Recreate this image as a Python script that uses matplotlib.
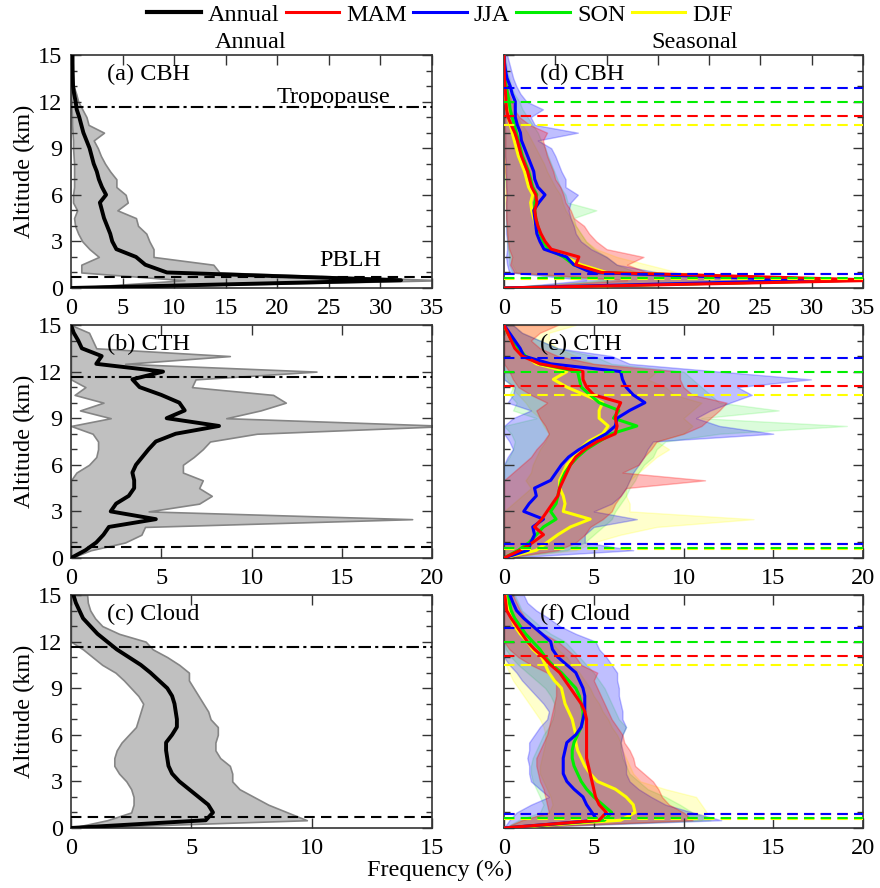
import numpy as np
import matplotlib
matplotlib.use('Agg')
import matplotlib.pyplot as plt
from matplotlib.ticker import MultipleLocator

plt.rcParams['font.family'] = ['Liberation Serif', 'DejaVu Serif']
FS = 17.5
plt.rcParams['font.size'] = FS

# altitude grid (km), 0.5 km bins
alt = np.arange(0, 15.01, 0.5)

# ---- annual profiles (mean, min, max) ----
cbh_ann = [0, 32, 9.3, 7.2, 6.3, 4.4, 4.0, 3.8, 3.5, 3.2, 3.0, 2.8, 3.4, 3.0, 2.7, 2.5, 2.2, 2.0, 1.8, 1.5, 1.2, 1.0, 0.8, 0.55, 0.45, 0.3, 0.2, 0.18, 0.16, 0.15, 0.15]
cbh_ann_lo = [0, 11, 1.0, 1.0, 2.7, 1.8, 1.1, 0.7, 0.4, 0.3, 0.6, 0.2, 0.2, 0.3, 0.3, 0.3, 0.3, 0.25, 0.2, 0.2, 0.15, 0.1, 0.1, 0.05, 0.05, 0, 0, 0, 0, 0, 0]
cbh_ann_hi = [0, 36, 14.4, 13.8, 8.0, 8.0, 7.6, 7.3, 6.5, 6.3, 4.5, 5.5, 5.3, 4.4, 4.4, 3.8, 3.3, 2.9, 2.6, 2.2, 3.2, 1.7, 1.5, 1.1, 0.7, 0.5, 0.25, 0.1, 0.05, 0.02, 0]

cth_ann = [0, 0.8, 1.4, 1.8, 2.1, 4.7, 2.2, 2.5, 3.2, 3.5, 3.5, 3.4, 3.6, 3.95, 4.3, 4.7, 5.8, 8.2, 5.3, 6.3, 6.0, 5.0, 3.8, 3.4, 5.1, 1.4, 1.7, 0.6, 0.4, 0.15, 0]
cth_ann_lo = [0, 0, 0, 0, 0, 0, 0, 0, 0, 0, 0, 0.3, 1.0, 1.4, 1.5, 1.5, 1.2, 0, 2.2, 0.5, 1.8, 0.2, 0.8, 0, 0, 0, 0, 0, 0, 0, 0]
cth_ann_hi = [0, 1.1, 3.0, 3.9, 4.1, 18.9, 4.3, 7.1, 7.8, 7.1, 7.3, 6.2, 6.2, 6.8, 7.3, 7.7, 10.3, 21, 8.6, 10.5, 11.9, 11.2, 6.7, 6.9, 13.6, 3.0, 8.8, 1.4, 1.2, 1.0, 0]

cld_ann = [0, 5.6, 5.9, 5.7, 5.3, 4.9, 4.5, 4.2, 4.05, 4.0, 3.95, 3.95, 4.2, 4.4, 4.4, 4.35, 4.3, 4.2, 4.0, 3.65, 3.3, 2.9, 2.4, 1.9, 1.5, 1.1, 0.8, 0.5, 0.35, 0.2, 0.1]
cld_ann_lo = [0, 1.5, 2.5, 2.6, 2.6, 2.5, 2.3, 2.0, 1.8, 1.8, 1.9, 2.1, 2.4, 2.7, 2.8, 2.9, 3.0, 2.8, 2.5, 2.2, 1.85, 1.3, 0.9, 0.5, 0, 0, 0, 0, 0, 0, 0]
cld_ann_hi = [0, 9.8, 9.0, 8.2, 7.6, 7.0, 6.7, 6.7, 6.6, 6.2, 6.0, 6.0, 6.1, 6.1, 5.8, 5.7, 5.5, 5.3, 5.1, 4.9, 4.9, 4.5, 4.0, 3.4, 3.1, 2.0, 1.3, 1.0, 0.8, 0.7, 0.67]

# ---- seasonal CBH ----
cbh_mam = [0, 37, 9.5, 7.0, 7.3, 4.6, 4.0, 3.6, 3.3, 3.1, 3.0, 3.2, 3.1, 2.7, 2.5, 2.3, 2.0, 1.7, 1.5, 1.3, 1.05, 0.7, 0.4, 0.25, 0.2, 0.15, 0.1, 0.05, 0.02, 0.01, 0]
cbh_jja = [0, 30, 8.5, 6.8, 6.1, 3.9, 3.5, 3.2, 3.1, 3.0, 2.9, 3.4, 4.0, 3.3, 3.0, 2.9, 2.6, 2.3, 2.0, 1.7, 1.6, 1.3, 1.1, 1.1, 1.1, 0.8, 0.6, 0.3, 0.15, 0.05, 0]
cbh_son = [0, 34, 9.0, 6.8, 5.8, 4.3, 3.8, 3.5, 3.3, 3.1, 3.0, 3.0, 3.2, 2.8, 2.6, 2.4, 2.1, 1.8, 1.6, 1.4, 1.2, 1.0, 0.8, 0.6, 0.5, 0.35, 0.2, 0.1, 0.05, 0.02, 0]
cbh_djf = [0, 33, 10.0, 7.5, 6.0, 4.4, 3.8, 3.4, 3.1, 2.9, 2.7, 2.6, 2.8, 2.4, 2.2, 2.0, 1.7, 1.4, 1.2, 1.0, 0.8, 0.6, 0.4, 0.3, 0.2, 0.1, 0.05, 0.02, 0.01, 0, 0]
cbh_mam_lo = [0, 12, 1.0, 0.6, 0.8, 0.5, 0.4, 0.3, 0.3, 0.2, 0.2, 0.2, 0.2, 0.2, 0.2, 0.1, 0.1, 0.1, 0.1, 0.1, 0.1, 0.05, 0.05, 0, 0, 0, 0, 0, 0, 0, 0]
cbh_jja_lo = [0, 8, 0.5, 0.3, 0.2, 0.3, 0.3, 0.2, 0.2, 0.2, 0.2, 0.2, 0.3, 0.2, 0.2, 0.2, 0.2, 0.1, 0.1, 0.1, 0.1, 0.1, 0.1, 0.05, 0.05, 0, 0, 0, 0, 0, 0]
cbh_son_lo = [0, 10, 0.8, 0.5, 0.5, 0.4, 0.3, 0.3, 0.2, 0.2, 0.2, 0.2, 0.2, 0.2, 0.1, 0.1, 0.1, 0.1, 0.1, 0.1, 0.05, 0.05, 0.05, 0, 0, 0, 0, 0, 0, 0, 0]
cbh_djf_lo = [0, 10, 1.2, 0.8, 0.6, 0.4, 0.3, 0.3, 0.2, 0.2, 0.2, 0.1, 0.1, 0.1, 0.1, 0.1, 0.1, 0.05, 0.05, 0.05, 0, 0, 0, 0, 0, 0, 0, 0, 0, 0, 0]
cbh_mam_hi = [0, 36, 14, 12, 13.6, 10, 9, 8.3, 7.8, 6.8, 6.5, 6.0, 5.8, 5.5, 5.0, 4.8, 4.5, 4.2, 4.0, 3.8, 4.2, 2.5, 1.5, 1.0, 0.8, 0.5, 0.3, 0.2, 0.1, 0.05, 0]
cbh_jja_hi = [0, 36, 15, 11, 10, 8.5, 7.5, 7.0, 6.8, 6.5, 6.3, 6.5, 7.2, 6.0, 6.0, 5.6, 5.3, 5.0, 4.6, 3.3, 7.2, 3.0, 2.6, 3.8, 2.2, 1.6, 1.2, 0.9, 0.7, 0.5, 0.3]
cbh_son_hi = [0, 36, 13, 11, 10, 8.8, 8.0, 7.5, 7.0, 6.8, 9.0, 6.2, 6.0, 5.5, 5.2, 4.9, 4.6, 4.3, 4.0, 3.6, 3.3, 2.8, 2.3, 1.8, 1.5, 1.0, 0.7, 0.5, 0.3, 0.2, 0.1]
cbh_djf_hi = [0, 36, 17, 14, 11, 9, 8, 7.5, 7.0, 6.5, 6.0, 5.7, 5.5, 5.0, 4.6, 4.2, 3.9, 3.5, 3.1, 2.7, 2.3, 1.8, 1.3, 0.9, 0.6, 0.4, 0.2, 0.1, 0.05, 0, 0]

# ---- seasonal CTH ----
cth_mam = [0, 0.9, 1.6, 2.2, 1.7, 2.1, 2.4, 2.7, 3.0, 3.1, 3.3, 3.5, 3.7, 4.0, 4.5, 5.2, 6.2, 6.3, 6.2, 6.3, 6.5, 5.0, 4.6, 4.4, 4.4, 2.0, 1.0, 0.6, 0.4, 0.2, 0]
cth_jja = [0, 1.35, 1.5, 1.7, 1.6, 2.2, 1.1, 1.4, 1.8, 1.7, 2.6, 2.9, 3.2, 3.6, 4.2, 4.9, 5.7, 6.2, 6.3, 7.0, 7.85, 7.2, 6.8, 6.6, 6.5, 2.6, 1.1, 0.9, 0.6, 0.3, 0]
cth_son = [0, 0.8, 1.4, 1.8, 2.2, 2.9, 2.6, 2.9, 3.0, 3.1, 3.2, 3.4, 3.7, 4.1, 4.6, 5.3, 6.0, 7.4, 6.1, 6.4, 5.3, 4.8, 4.3, 4.2, 4.1, 2.0, 1.2, 0.8, 0.5, 0.2, 0]
cth_djf = [0, 1.8, 2.4, 3.0, 3.7, 4.8, 3.3, 3.4, 3.3, 3.1, 3.1, 3.3, 3.5, 3.9, 4.2, 4.7, 5.5, 5.8, 5.3, 5.3, 5.5, 4.5, 3.5, 2.75, 3.5, 1.8, 1.2, 0.7, 0.4, 0.2, 0]
cth_mam_lo = [0, 0, 0, 0, 0, 0, 0, 0, 0, 0, 0, 0.5, 1.0, 1.5, 1.8, 2.2, 2.5, 2.3, 2.0, 1.8, 2.4, 1.5, 0.8, 0.5, 0.3, 0, 0, 0, 0, 0, 0]
cth_jja_lo = [0, 0, 0, 0, 0, 0, 0, 0, 0, 0, 0, 0, 0, 0.2, 0.5, 0.3, 0, 0, 0.5, 1.5, 0.2, 0.5, 0.6, 0, 0, 0, 0, 0, 0, 0, 0]
cth_son_lo = [0, 0, 0, 0, 0, 0, 0, 0, 0, 0, 0, 0, 0, 0.3, 0.5, 0.6, 0.4, 0, 1.8, 0.5, 0.7, 0.3, 0.5, 0, 0, 0, 0, 0, 0, 0, 0]
cth_djf_lo = [0, 0, 0, 0, 0, 0, 0, 0.5, 1.0, 1.5, 1.2, 1.5, 1.6, 1.8, 2.0, 2.3, 2.5, 2.2, 2.0, 1.5, 1.2, 0.8, 0.4, 0.2, 0, 0, 0, 0, 0, 0, 0]
cth_mam_hi = [0, 3.0, 4.0, 4.5, 4.8, 5.5, 6.0, 6.2, 6.5, 6.8, 11.2, 6.6, 7.5, 7.8, 8.2, 8.5, 10.0, 11.0, 11.5, 12.0, 12.4, 10.5, 10.0, 9.8, 9.8, 5.0, 3.0, 2.0, 1.5, 2.0, 3.0]
cth_jja_hi = [0, 7.2, 4.5, 4.5, 5.0, 7.4, 5.0, 6.0, 6.5, 6.8, 7.0, 7.2, 7.5, 7.8, 8.0, 8.3, 15.0, 12.0, 10.7, 11.5, 12.6, 13.8, 13.0, 17.1, 12.0, 7.0, 6.0, 3.0, 2.0, 1.0, 0.5]
cth_son_hi = [0, 3.5, 4.5, 5.0, 5.5, 6.0, 6.2, 6.5, 6.8, 7.0, 7.3, 7.5, 7.8, 8.3, 8.5, 9.0, 12.0, 19.1, 11.0, 15.3, 12.0, 11.5, 11.0, 10.5, 10.0, 6.0, 5.0, 3.0, 2.0, 1.0, 0.5]
cth_djf_hi = [0, 4.0, 5.0, 6.5, 8.5, 13.9, 7.0, 7.0, 6.8, 6.8, 7.0, 7.5, 8.0, 8.5, 9.2, 8.5, 10.0, 10.5, 10.0, 10.5, 11.0, 9.5, 9.0, 8.0, 8.5, 5.0, 4.0, 3.0, 2.5, 2.5, 4.0]

# ---- seasonal cloud ----
cld_mam = [0, 5.3, 5.7, 5.3, 5.1, 5.0, 4.9, 4.8, 4.7, 4.6, 4.6, 4.6, 4.6, 4.6, 4.6, 4.5, 4.3, 4.0, 3.7, 3.4, 3.1, 2.6, 2.2, 1.7, 1.3, 1.0, 0.7, 0.4, 0.15, 0.1, 0.05]
cld_jja = [0, 5.2, 4.9, 4.6, 4.4, 3.9, 3.5, 3.3, 3.3, 3.3, 3.4, 3.5, 4.0, 4.3, 4.4, 4.5, 4.5, 4.5, 4.4, 4.2, 4.0, 3.5, 3.0, 2.7, 2.6, 2.1, 1.6, 1.1, 0.7, 0.5, 0.33]
cld_son = [0, 5.6, 6.0, 5.5, 5.0, 4.6, 4.3, 4.1, 3.9, 3.8, 3.8, 3.9, 4.1, 4.3, 4.4, 4.4, 4.3, 4.2, 4.0, 3.6, 3.2, 2.7, 2.3, 2.0, 1.6, 1.2, 0.9, 0.6, 0.4, 0.3, 0.25]
cld_djf = [0, 6.5, 7.3, 7.2, 6.8, 6.2, 5.2, 4.8, 4.5, 4.3, 4.1, 4.0, 4.0, 3.9, 3.8, 3.6, 3.4, 3.3, 3.2, 2.8, 2.5, 2.3, 2.1, 1.6, 1.3, 0.9, 0.6, 0.4, 0.25, 0.15, 0.1]
cld_mam_lo = [0, 1.0, 2.5, 2.4, 2.3, 2.2, 2.0, 1.9, 1.8, 1.8, 2.0, 2.2, 2.4, 2.5, 2.6, 2.7, 2.8, 2.9, 2.9, 2.9, 2.4, 1.5, 0.8, 0.3, 0, 0, 0, 0, 0, 0, 0]
cld_jja_lo = [0, 0.3, 0.7, 1.5, 2.5, 2.0, 1.5, 1.4, 1.4, 1.3, 1.4, 1.4, 1.7, 2.0, 2.4, 2.5, 2.2, 1.8, 1.4, 1.0, 0.7, 0.3, 0, 0, 0, 0, 0, 0, 0, 0, 0]
cld_son_lo = [0, 0.8, 2.0, 2.2, 2.0, 1.8, 1.6, 1.5, 1.5, 1.6, 1.8, 2.0, 2.2, 2.5, 2.7, 2.8, 2.8, 2.6, 2.3, 1.8, 1.3, 0.8, 0.4, 0.1, 0, 0, 0, 0, 0, 0, 0]
cld_djf_lo = [0, 1.0, 2.5, 2.7, 2.6, 2.4, 2.2, 2.0, 2.0, 2.1, 2.2, 2.3, 2.3, 2.2, 2.0, 1.7, 1.4, 1.1, 0.8, 0.5, 0.3, 0.1, 0, 0, 0, 0, 0, 0, 0, 0, 0]
cld_mam_hi = [0, 10.5, 10.0, 9.2, 8.8, 8.6, 8.3, 7.8, 7.3, 7.2, 7.0, 6.7, 6.6, 6.3, 6.0, 5.8, 5.6, 5.4, 5.2, 5.0, 5.2, 4.3, 4.0, 3.5, 3.0, 2.2, 1.6, 1.2, 0.9, 0.7, 0.5]
cld_jja_hi = [0, 12.1, 10.5, 9.0, 8.2, 7.5, 7.0, 6.8, 6.8, 6.7, 6.6, 6.5, 6.6, 6.8, 6.6, 6.6, 6.5, 6.4, 6.4, 6.3, 6.3, 6.0, 5.7, 5.3, 5.1, 4.0, 3.1, 2.5, 1.8, 1.3, 1.1]
cld_son_hi = [0, 11.5, 10.5, 9.8, 9.0, 8.0, 7.5, 7.0, 6.8, 6.6, 6.5, 6.5, 6.6, 6.8, 6.4, 6.2, 6.0, 5.8, 5.6, 5.3, 5.0, 4.6, 4.2, 3.8, 3.4, 2.6, 2.0, 1.5, 1.0, 0.8, 0.6]
cld_djf_hi = [0, 11.0, 11.3, 11.0, 10.7, 9.0, 7.6, 7.2, 7.0, 6.8, 6.6, 6.5, 6.3, 6.0, 5.8, 5.5, 5.3, 5.0, 4.8, 4.5, 4.2, 3.8, 3.5, 3.0, 2.6, 2.0, 1.5, 1.0, 0.7, 0.5, 0.3]

# reference heights (km)
tropopause = 11.65
pblh = 0.7
seasons = ['MAM', 'JJA', 'SON', 'DJF']
season_colors = ['#ff0000', '#0000ff', '#00ee00', '#ffff00']
season_alpha = [0.27, 0.25, 0.14, 0.2]
trop_season = [11.07, 12.88, 11.95, 10.5]
pblh_season = [0.9, 0.92, 0.62, 0.55]

fig = plt.figure(figsize=(8.8, 8.88), dpi=100)
W, H = 880.0, 888.0
rows = [(55, 288), (325, 558), (595, 828)]
left_x = (71, 432)
right_x = (504, 863)


def make_ax(xs, ys):
    return fig.add_axes([xs[0] / W, 1 - ys[1] / H, (xs[1] - xs[0]) / W, (ys[1] - ys[0]) / H])


def style(ax, xmax, ylabels=True):
    ax.set_xlim(0, xmax)
    ax.set_ylim(0, 15)
    ax.xaxis.set_major_locator(MultipleLocator(5))
    ax.yaxis.set_major_locator(MultipleLocator(3))
    ax.yaxis.set_minor_locator(MultipleLocator(1))
    ax.tick_params(which='both', direction='in', top=True, right=True, width=1, colors='#333333', labelcolor='black')
    ax.tick_params(which='major', length=7, labelsize=FS)
    ax.tick_params(which='minor', length=4)
    ax.tick_params(axis='x', pad=7)
    ax.tick_params(axis='y', pad=6)
    for sp in ax.spines.values():
        sp.set_color('#333333')
        sp.set_linewidth(1.2)
    if ylabels:
        ax.set_ylabel('Altitude (km)', fontsize=FS, labelpad=2)
    else:
        ax.set_yticklabels([])


annual = [(cbh_ann, cbh_ann_lo, cbh_ann_hi, 35, '(a) CBH'),
          (cth_ann, cth_ann_lo, cth_ann_hi, 20, '(b) CTH'),
          (cld_ann, cld_ann_lo, cld_ann_hi, 15, '(c) Cloud')]

for i, (mean, lo, hi, xmax, name) in enumerate(annual):
    ax = make_ax(left_x, rows[i])
    ax.fill_betweenx(alt, lo, hi, facecolor='#c0c0c0', edgecolor='#858585', lw=1.2, zorder=1)
    ax.plot(mean, alt, color='black', lw=2.8, zorder=3)
    ax.axhline(tropopause, color='black', ls='-.', lw=1.5, dashes=(6, 2, 1.5, 2), zorder=4)
    ax.axhline(pblh, color='black', ls='--', lw=1.5, dashes=(5, 3), zorder=4)
    ax.text(0.1, 0.915, name, transform=ax.transAxes, va='center', ha='left', fontsize=FS)
    style(ax, xmax)
    if i == 0:
        ax.text(25.4, 12.25, 'Tropopause', ha='center', va='center', fontsize=FS)
        ax.text(27.1, 1.8, 'PBLH', ha='center', va='center', fontsize=FS)

seasonal = [([cbh_mam, cbh_jja, cbh_son, cbh_djf], [cbh_mam_lo, cbh_jja_lo, cbh_son_lo, cbh_djf_lo],
             [cbh_mam_hi, cbh_jja_hi, cbh_son_hi, cbh_djf_hi], 35, '(d) CBH'),
            ([cth_mam, cth_jja, cth_son, cth_djf], [cth_mam_lo, cth_jja_lo, cth_son_lo, cth_djf_lo],
             [cth_mam_hi, cth_jja_hi, cth_son_hi, cth_djf_hi], 20, '(e) CTH'),
            ([cld_mam, cld_jja, cld_son, cld_djf], [cld_mam_lo, cld_jja_lo, cld_son_lo, cld_djf_lo],
             [cld_mam_hi, cld_jja_hi, cld_son_hi, cld_djf_hi], 20, '(f) Cloud')]

for i, (means, los, his, xmax, name) in enumerate(seasonal):
    ax = make_ax(right_x, rows[i])
    # shading: DJF, SON, JJA, then MAM on top
    for k in [3, 2, 1, 0]:
        ax.fill_betweenx(alt, los[k], his[k], facecolor=season_colors[k], alpha=season_alpha[k],
                         edgecolor=season_colors[k], lw=1.0, zorder=1)
    for k in [3, 2, 1, 0]:
        ax.plot(means[k], alt, color=season_colors[k], lw=2.2, zorder=3)
    for k in [3, 0, 2, 1]:
        ax.axhline(trop_season[k], color=season_colors[k], ls='--', lw=1.5, dashes=(5, 3), zorder=4)
        ax.axhline(pblh_season[k], color=season_colors[k], ls='--', lw=1.5, dashes=(5, 3), zorder=4)
    ax.text(0.1, 0.915, name, transform=ax.transAxes, va='center', ha='left', fontsize=FS)
    style(ax, xmax, ylabels=False)

# legend
handles = [plt.Line2D([], [], color='black', lw=3)]
handles += [plt.Line2D([], [], color=c, lw=2.2) for c in season_colors]
fig.legend(handles, ['Annual'] + seasons, loc='center', bbox_to_anchor=(0.5, 1 - 15 / H),
           ncol=5, frameon=False, fontsize=FS, handlelength=2.2, handletextpad=0.3,
           columnspacing=0.25, borderpad=0)

fig.text(251 / W, 1 - 42 / H, 'Annual', ha='center', va='center', fontsize=FS)
fig.text(695 / W, 1 - 42 / H, 'Seasonal', ha='center', va='center', fontsize=FS)
fig.text(440 / W, 1 - 870 / H, 'Frequency (%)', ha='center', va='center', fontsize=FS)

fig.savefig('out.png', dpi=100)
